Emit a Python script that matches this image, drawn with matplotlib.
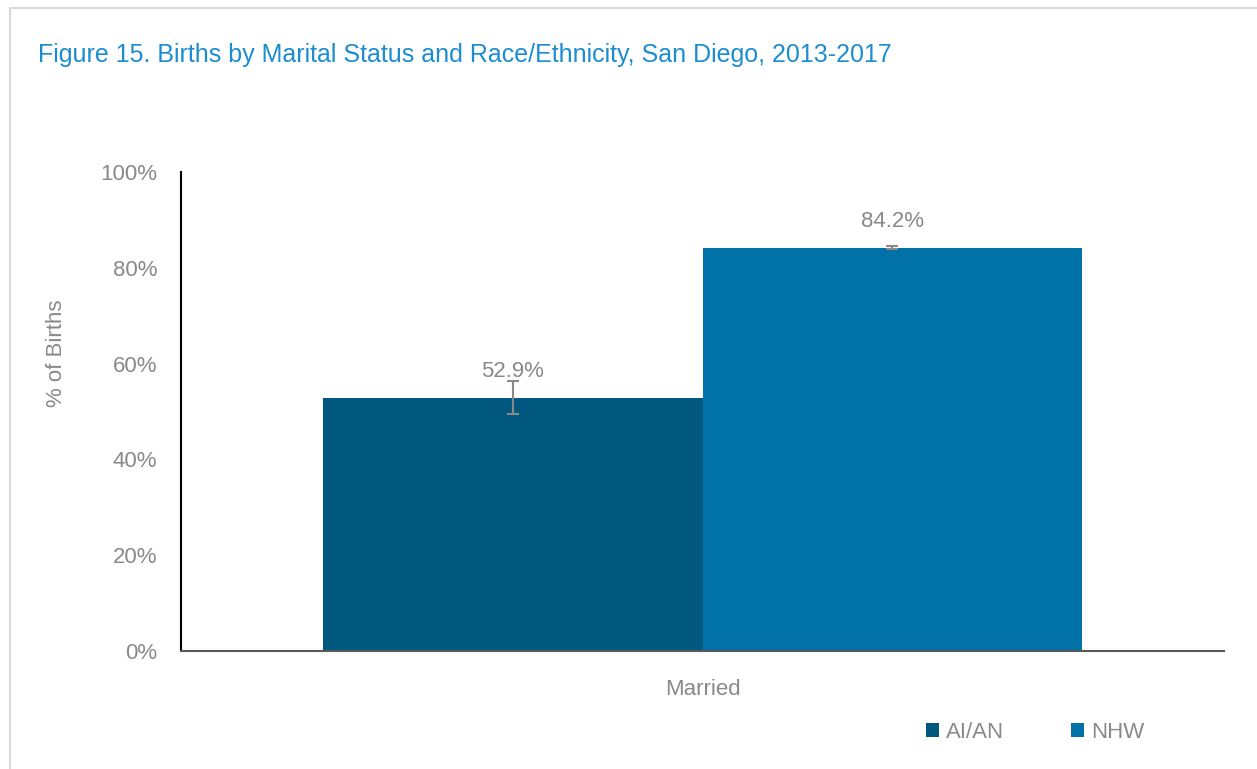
import matplotlib.pyplot as plt
from matplotlib.patches import Rectangle, Patch

plt.rcParams['font.family'] = ['Liberation Sans Narrow', 'Liberation Sans', 'DejaVu Sans']

categories = ['Married']
groups = ['AI/AN', 'NHW']
values = [52.9, 84.2]
errors = [3.5, 0.3]
colors = ['#00587f', '#0072a7']
yticks = [0, 20, 40, 60, 80, 100]

gray = '#898989'

fig = plt.figure(figsize=(12.57, 7.69), dpi=100)
ax = fig.add_axes([181/1257, 1 - 651/769, 1043/1257, 479/769])

width = 0.3643
offsets = [-width/2, width/2]
for i, g in enumerate(groups):
    x = 0 + offsets[i]
    ax.bar(x, values[i], width, color=colors[i], label=g)
    ax.errorbar(x, values[i], yerr=errors[i], fmt='none', ecolor=gray,
                elinewidth=1.5, capsize=4.5, capthick=1.5)
    ax.annotate(f'{values[i]:.1f}%', (x, values[i]), xytext=(0, 11),
                textcoords='offset points', ha='center', va='bottom',
                fontsize=16, color=gray)

ax.set_xlim(-0.5, 0.5)
ax.set_ylim(0, 100)
ax.set_yticks(yticks)
ax.set_yticklabels([f'{t}%' for t in yticks])
ax.set_xticks([0])
ax.set_xticklabels(categories)
ax.tick_params(axis='both', length=0, labelsize=16, labelcolor=gray)
ax.tick_params(axis='y', pad=17)
ax.tick_params(axis='x', pad=20)
for s in ['top', 'right']:
    ax.spines[s].set_visible(False)
ax.spines['left'].set_color('black')
ax.spines['left'].set_linewidth(1.5)
ax.spines['bottom'].set_color('#595959')
ax.spines['bottom'].set_linewidth(1.5)

fig.text(57/1257, 1 - 353/769, '% of Births', rotation=90, ha='center',
         va='center', fontsize=16, color=gray)

fig.text(38/1257, 1 - 62/769, 'Figure 15. Births by Marital Status and Race/Ethnicity, San Diego, 2013-2017',
         fontsize=18, color='#1b8dd0', ha='left', va='baseline')

handles = [Patch(facecolor=c, label=g) for c, g in zip(colors, groups)]
fig.legend(handles=handles, loc='center', bbox_to_anchor=(1035/1257, 1 - 732/769),
           ncol=2, frameon=False, fontsize=16, labelcolor=gray,
           handlelength=0.6, handleheight=0.6, handletextpad=0.3,
           columnspacing=3.0)

fig.add_artist(Rectangle((10/1257, -0.05), 1.2, 0.05 + 1 - 8/769,
                         transform=fig.transFigure, fill=False,
                         edgecolor='#d9d9d9', linewidth=1.5))

fig.savefig('out.png', dpi=100)
